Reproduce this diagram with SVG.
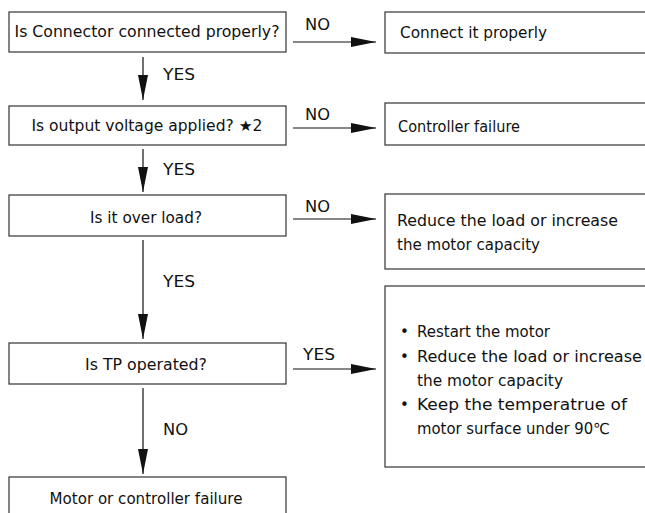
<svg xmlns="http://www.w3.org/2000/svg" width="645" height="513" viewBox="0 0 645 513">
<style>
rect{fill:#fff;stroke:#333;stroke-width:1.2}
text{font-family:"DejaVu Sans","Liberation Sans",Arial,sans-serif;font-size:15px;fill:#111}
.c{text-anchor:middle}
.ln{stroke:#111;stroke-width:1.2;fill:none}
</style>
<defs>
<marker id="ah" markerWidth="25" markerHeight="10" refX="25" refY="5" orient="auto" markerUnits="userSpaceOnUse">
<path d="M0,0 L25,5 L0,10 Z" fill="#111"/>
</marker>
</defs>
<rect width="645" height="513" style="stroke:none"/>
<g id="q1"><rect x="9" y="12" width="277" height="40"/><text class="c" x="147" y="37" textLength="265" lengthAdjust="spacingAndGlyphs">Is Connector connected properly?</text></g>
<g id="q2"><rect x="9" y="106" width="277" height="39"/><text class="c" x="147" y="131" textLength="231" lengthAdjust="spacingAndGlyphs">Is output voltage applied? ★2</text></g>
<g id="q3"><rect x="9" y="195" width="277" height="41"/><text class="c" x="146" y="223" textLength="112" lengthAdjust="spacingAndGlyphs">Is it over load?</text></g>
<g id="q4"><rect x="9" y="343" width="277" height="41"/><text class="c" x="146" y="370" textLength="122" lengthAdjust="spacingAndGlyphs">Is TP operated?</text></g>
<g id="r5"><rect x="9" y="477" width="277" height="50"/><text class="c" x="146" y="504" textLength="193" lengthAdjust="spacingAndGlyphs">Motor or controller failure</text></g>
<g id="r1"><rect x="385" y="12" width="300" height="41"/><text x="400" y="38" textLength="147" lengthAdjust="spacingAndGlyphs">Connect it properly</text></g>
<g id="r2"><rect x="385" y="103" width="300" height="42"/><text x="398" y="132" textLength="122" lengthAdjust="spacingAndGlyphs">Controller failure</text></g>
<g id="r3"><rect x="385" y="194" width="300" height="75"/><text x="397" y="226" textLength="221" lengthAdjust="spacingAndGlyphs">Reduce the load or increase</text><text x="397" y="250" textLength="143" lengthAdjust="spacingAndGlyphs">the motor capacity</text></g>
<g id="r4"><rect x="385" y="286" width="300" height="181"/>
<text x="400" y="337">•</text><text x="417" y="337" textLength="133" lengthAdjust="spacingAndGlyphs">Restart the motor</text>
<text x="400" y="362">•</text><text x="417" y="362" textLength="225" lengthAdjust="spacingAndGlyphs">Reduce the load or increase</text>
<text x="417" y="386" textLength="146" lengthAdjust="spacingAndGlyphs">the motor capacity</text>
<text x="400" y="410">•</text><text x="417" y="410" textLength="210" lengthAdjust="spacingAndGlyphs">Keep the temperatrue of</text>
<text x="417" y="434" textLength="193" lengthAdjust="spacingAndGlyphs">motor surface under 90℃</text>
</g>
<g id="connectors">
<line class="ln" x1="293" y1="42" x2="376" y2="42" marker-end="url(#ah)"/>
<line class="ln" x1="293" y1="128" x2="376" y2="128" marker-end="url(#ah)"/>
<line class="ln" x1="293" y1="219" x2="376" y2="219" marker-end="url(#ah)"/>
<line class="ln" x1="293" y1="369" x2="376" y2="369" marker-end="url(#ah)"/>
<line class="ln" x1="143" y1="57" x2="143" y2="100" marker-end="url(#ah)"/>
<line class="ln" x1="143" y1="149" x2="143" y2="192" marker-end="url(#ah)"/>
<line class="ln" x1="143" y1="240" x2="143" y2="339" marker-end="url(#ah)"/>
<line class="ln" x1="143" y1="388" x2="143" y2="474" marker-end="url(#ah)"/>
<text x="305" y="30" textLength="25" lengthAdjust="spacingAndGlyphs">NO</text>
<text x="305" y="120" textLength="25" lengthAdjust="spacingAndGlyphs">NO</text>
<text x="305" y="212" textLength="25" lengthAdjust="spacingAndGlyphs">NO</text>
<text x="303" y="360" textLength="32" lengthAdjust="spacingAndGlyphs">YES</text>
<text x="163" y="80" textLength="32" lengthAdjust="spacingAndGlyphs">YES</text>
<text x="163" y="175" textLength="32" lengthAdjust="spacingAndGlyphs">YES</text>
<text x="163" y="287" textLength="32" lengthAdjust="spacingAndGlyphs">YES</text>
<text x="163" y="435" textLength="25" lengthAdjust="spacingAndGlyphs">NO</text>
</g>
</svg>
